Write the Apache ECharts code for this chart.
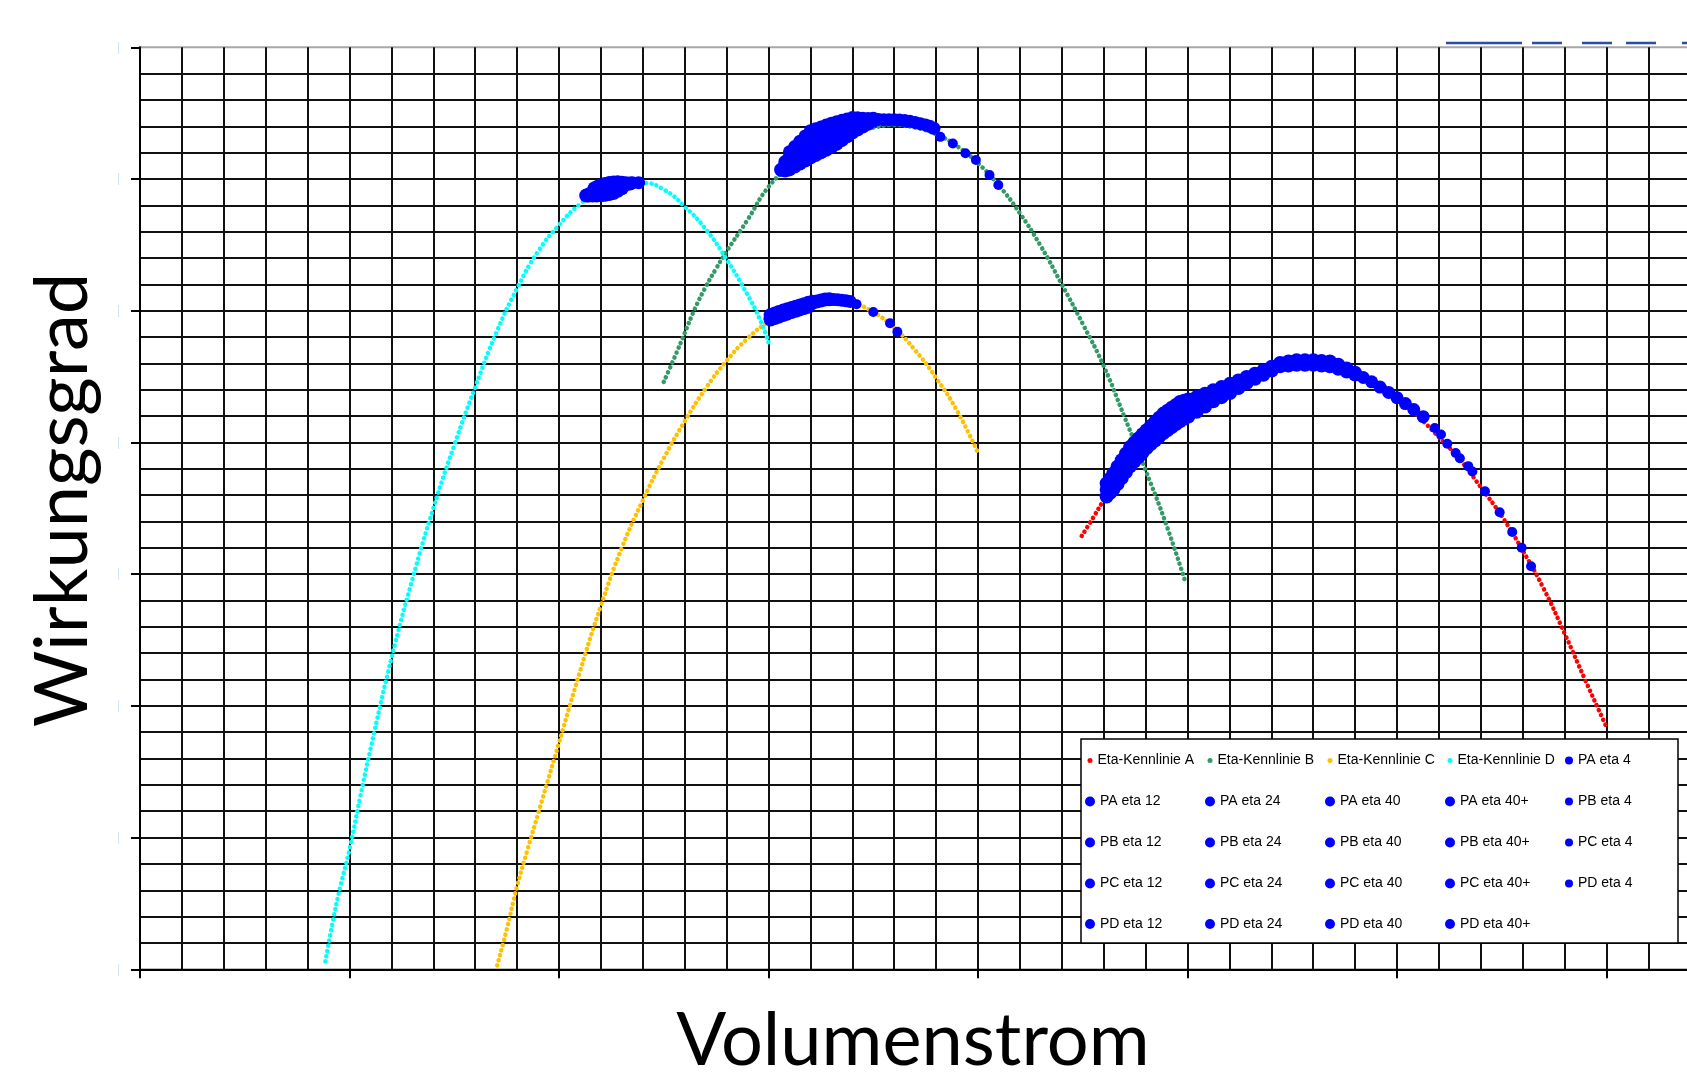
<!DOCTYPE html>
<html>
<head>
<meta charset="utf-8">
<script src="https://cdn.jsdelivr.net/npm/echarts@6/dist/echarts.min.js"></script>
<style>
html,body{margin:0;padding:0;background:#fff;}
#chart{width:1687px;height:1080px;}
</style>
</head>
<body>
<div id="chart"></div>
<script>
// ---------- texts ----------
const xTitle = 'Volumenstrom';
const yTitle = 'Wirkungsgrad';

// ---------- Kennlinien (x = Volumenstrom, y = Wirkungsgrad) ----------
const kennlinieNames = ['Eta-Kennlinie A', 'Eta-Kennlinie B', 'Eta-Kennlinie C', 'Eta-Kennlinie D'];
const kennlinieColors = ['#ff0000', '#339966', '#ffc000', '#00ffff'];

const curveA = [[44.95,32.9],[45.5,34.3],[46,35.6],[47,37.9],[48,39.9],[49,41.4],[50,42.6],[51,43.6],[52,44.5],[53,45.2],[54,45.8],[55,46.2],[56,46.3],[57,46.0],[58,45.4],[59,44.6],[60,43.5],[61,42.0],[62,40.4],[63,38.7],[64,36.6],[65,34.4],[66,31.8],[67,28.9],[68,25.5],[69,21.9],[70,18.4]];
const curveB = [[25.0,44.6],[25.5,46.4],[26,48.3],[26.5,50.2],[27,51.8],[27.5,53.2],[28,54.5],[29,56.9],[30,59.4],[31,60.9],[32,62.0],[33,62.9],[34,63.5],[35,63.9],[36,64.1],[37,63.9],[38,63.4],[39,62.5],[40,61.2],[41,59.5],[42,57.4],[43,54.9],[44,52.0],[45,49.0],[46,45.8],[47,41.9],[48,37.9],[49,33.7],[49.9,29.4]];
const curveC = [[17.05,0.3],[17.5,3.0],[18,6.3],[18.5,9.1],[19,11.8],[20,17.2],[21,22.6],[22,27.6],[23,32.0],[24,35.6],[25,38.8],[26,41.6],[27,44.1],[28,46.2],[29,47.9],[30,49.2],[31,50.2],[32,50.7],[33,50.9],[34,50.6],[35,49.9],[36,48.7],[37,47.0],[38,44.9],[39,42.4],[40,39.2]];
const curveD = [[8.85,0.6],[9.2,3.6],[9.55,6.2],[10,9.1],[10.5,13.0],[11,16.7],[12,23.6],[13,29.6],[14,35.0],[15,39.8],[16,44.2],[17,48.3],[18,51.7],[19,54.5],[20,56.5],[21,58.1],[22,59.2],[23,59.7],[24,59.7],[25,59.2],[26,57.9],[27,56.2],[28,53.9],[29,51.2],[29.6,49.3],[30,47.6]];

// ---------- Betriebspunkte (blue) ----------
const PA_eta4 = [[61.8,41.1],[62.1,40.6],[62.4,39.9],[62.8,39.2],[63.0,38.8],[63.4,38.2],[63.6,37.8],[64.2,36.3],[64.9,34.7],[65.5,33.2],[65.95,32.0],[66.4,30.6]];
const PA_eta12 = [[46.14,35.9],[46.3,36.15],[46.46,36.42],[46.66,36.85],[46.86,37.3],[47.06,37.75],[47.26,38.19],[47.46,38.55],[47.66,38.89],[47.86,39.25],[48.05,39.58],[48.25,39.87],[48.45,40.15],[48.65,40.45],[48.85,40.72],[49.05,40.95],[49.25,41.16],[49.45,41.4],[49.64,41.6],[49.84,41.8],[50.04,41.97],[50.44,42.33],[50.84,42.73],[51.23,43.13],[51.63,43.44],[52.03,43.75],[52.43,44.13],[52.82,44.51],[53.22,44.83],[53.62,45.14],[54.02,45.46],[54.42,45.78],[54.82,45.84],[55.21,45.9],[55.61,45.9],[56.01,45.9],[56.4,45.84],[56.8,45.78],[57.2,45.6],[57.6,45.39],[58.0,45.15]];
const PA_eta24 = [[46.14,36.4],[46.3,36.7],[46.46,37.03],[46.66,37.5],[46.86,37.98],[47.06,38.47],[47.26,38.93],[47.46,39.28],[47.66,39.6],[47.86,39.95],[48.05,40.26],[48.25,40.57],[48.45,40.86],[48.65,41.17],[48.85,41.46],[49.05,41.7],[49.25,41.9],[49.45,42.12],[49.64,42.33],[49.84,42.48],[50.04,42.61],[50.24,42.75],[50.44,42.89],[50.64,43.05],[50.84,43.22],[51.03,43.39],[51.23,43.55],[51.43,43.69],[51.63,43.83],[51.83,43.97],[52.03,44.1],[52.23,44.26],[52.43,44.42],[52.63,44.58],[52.82,44.74]];
const PA_eta40 = [[46.14,36.88],[46.3,37.25],[46.46,37.64],[46.66,38.15],[46.86,38.65],[47.06,39.15],[47.26,39.66],[47.46,39.98],[47.66,40.3],[47.86,40.62],[48.05,40.93],[48.25,41.25],[48.45,41.56],[48.65,41.88],[48.85,42.19],[49.05,42.41],[49.25,42.63],[49.45,42.85],[49.64,43.07],[49.84,43.17],[50.04,43.26],[50.44,43.45],[50.84,43.7],[51.23,43.96],[51.63,44.21],[52.03,44.46],[52.43,44.71],[52.82,44.97],[53.22,45.22],[53.62,45.47],[54.02,45.75],[54.42,46.04],[54.82,46.14],[55.21,46.24],[55.61,46.24],[56.01,46.24],[56.4,46.19],[56.8,46.14],[57.2,45.9],[57.6,45.61],[58.0,45.3]];
const PA_eta40p = [[58.39,44.93],[58.79,44.6],[59.19,44.2],[59.6,43.8],[60.0,43.4],[60.4,42.95],[60.8,42.5],[61.25,41.96]];

const PB_eta4 = [[38.2,63.2],[38.8,62.7],[39.4,61.96],[39.9,61.45],[40.55,60.3],[40.97,59.55]];
const PB_eta12 = [[30.8,60.65],[31.0,60.73],[31.25,60.95],[31.5,61.18],[31.75,61.4],[32.0,61.63],[32.25,61.82],[32.5,62.02],[32.75,62.22],[33.0,62.42],[33.25,62.68],[33.5,62.95],[33.75,63.24],[34.0,63.53],[34.25,63.75],[34.5,63.98],[34.75,64.2],[35.0,64.43]];
const PB_eta24 = [[30.6,60.7],[30.8,60.95],[31.0,61.18],[31.25,61.46],[31.5,61.74],[31.75,62.02],[32.0,62.31],[32.25,62.48],[32.5,62.66],[32.75,62.85],[33.0,63.03],[33.25,63.24],[33.5,63.45],[33.75,63.68],[34.0,63.91],[34.25,64.05],[34.5,64.19],[34.75,64.35]];
const PB_eta40 = [[30.8,61.3],[31.0,61.62],[31.25,61.96],[31.5,62.31],[31.75,62.65],[32.0,62.99],[32.25,63.15],[32.5,63.31],[32.75,63.47],[33.0,63.63],[33.25,63.8],[33.5,63.96],[33.75,64.13],[34.0,64.29],[34.25,64.35],[34.5,64.41],[34.75,64.5],[35.0,64.57]];
const PB_eta40p = [[31.0,62.07],[31.25,62.47],[31.5,62.87],[31.75,63.27],[32.0,63.67],[32.25,63.81],[32.5,63.95],[32.75,64.1],[33.0,64.24],[33.25,64.35],[33.5,64.46],[33.75,64.56],[34.0,64.67],[34.25,64.65],[34.5,64.62],[34.75,64.6],[35.25,64.52],[35.5,64.5],[35.75,64.5],[36.0,64.5],[36.25,64.48],[36.5,64.45],[36.75,64.38],[37.0,64.3],[37.25,64.2],[37.5,64.1],[37.7,64.0],[37.9,63.85]];

const PC_eta4 = [[34.2,50.5],[35.0,49.9],[35.8,49.05],[36.15,48.4]];
const PC_eta12 = [[30.1,49.33],[30.3,49.44],[30.5,49.55],[30.7,49.67],[30.9,49.78],[31.1,49.9],[31.3,50.0],[31.5,50.1],[31.7,50.2],[31.9,50.3]];
const PC_eta24 = [[30.1,49.45],[30.3,49.6],[30.5,49.72],[30.7,49.85],[30.9,49.96],[31.1,50.07],[31.3,50.17],[31.5,50.27],[31.7,50.38],[31.9,50.5],[32.1,50.6],[32.3,50.7],[32.5,50.77],[32.7,50.85],[32.9,50.87]];
const PC_eta40 = [[30.1,49.67],[30.3,49.79],[30.5,49.9],[30.7,50.01],[30.9,50.12],[31.1,50.21],[31.3,50.3],[31.5,50.4],[31.7,50.5],[31.9,50.6],[32.1,50.68]];
const PC_eta40p = [[33.1,50.85],[33.3,50.84],[33.5,50.8],[33.7,50.76],[33.9,50.7]];

const PD_eta4 = [[23.85,59.7]];
const PD_eta12 = [[21.4,58.75],[21.6,58.75],[21.8,58.75],[22.0,58.77],[22.2,58.8],[22.4,58.86],[22.6,58.93],[22.8,59.1],[23.0,59.3]];
const PD_eta24 = [[21.3,58.75],[21.45,58.85],[21.6,58.95],[21.8,59.05],[22.0,59.13],[22.2,59.22],[22.4,59.3],[22.6,59.38],[22.8,59.45],[23.0,59.52],[23.2,59.6],[23.4,59.65]];
const PD_eta40 = [[21.7,59.3],[21.85,59.42],[22.0,59.53],[22.2,59.62],[22.4,59.7],[22.6,59.73],[22.8,59.75],[23.0,59.72],[23.2,59.67]];
const PD_eta40p = [[23.5,59.72],[23.8,59.72]];

const pointNames = [
  'PA eta 4','PA eta 12','PA eta 24','PA eta 40','PA eta 40+',
  'PB eta 4','PB eta 12','PB eta 24','PB eta 40','PB eta 40+',
  'PC eta 4','PC eta 12','PC eta 24','PC eta 40','PC eta 40+',
  'PD eta 4','PD eta 12','PD eta 24','PD eta 40','PD eta 40+'
];
const pointData = [
  PA_eta4, PA_eta12, PA_eta24, PA_eta40, PA_eta40p,
  PB_eta4, PB_eta12, PB_eta24, PB_eta40, PB_eta40p,
  PC_eta4, PC_eta12, PC_eta24, PC_eta40, PC_eta40p,
  PD_eta4, PD_eta12, PD_eta24, PD_eta40, PD_eta40p
];
const pointColor = '#0000ff';

// legend arrangement (rows as in the picture)
const legendRows = [
  ['Eta-Kennlinie A','Eta-Kennlinie B','Eta-Kennlinie C','Eta-Kennlinie D','PA eta 4'],
  ['PA eta 12','PA eta 24','PA eta 40','PA eta 40+','PB eta 4'],
  ['PB eta 12','PB eta 24','PB eta 40','PB eta 40+','PC eta 4'],
  ['PC eta 12','PC eta 24','PC eta 40','PC eta 40+','PD eta 4'],
  ['PD eta 12','PD eta 24','PD eta 40','PD eta 40+']
];

// ---------- layout ----------
const GRID_LEFT = 140, GRID_TOP = 47.3, GRID_W = 1676, GRID_H = 922;
const LEG_COL_X = [1090, 1210, 1330, 1450, 1569];
const LEG_ROW_Y = [762.5, 803.5, 844.5, 885.5, 926];

const series = [];
kennlinieNames.forEach(function (name, i) {
  series.push({
    name: name,
    type: 'line',
    data: [curveA, curveB, curveC, curveD][i],
    smooth: 0.5,
    symbol: 'none',
    showSymbol: false,
    z: 2,
    itemStyle: { color: kennlinieColors[i] },
    lineStyle: { color: kennlinieColors[i], width: 4.5, type: [0.1, 5.2], cap: 'round' },
    emphasis: { disabled: true },
    silent: true
  });
});
pointNames.forEach(function (name, i) {
  let size = 14;
  if (/eta 4$/.test(name)) size = 10;
  else if (/40\+$/.test(name)) size = 13;
  series.push({
    name: name,
    type: 'scatter',
    data: pointData[i],
    symbol: 'circle',
    symbolSize: size,
    z: 3,
    itemStyle: { color: pointColor, opacity: 1 },
    emphasis: { disabled: true },
    silent: true
  });
});

const legends = [];
legendRows.forEach(function (row, r) {
  row.forEach(function (name, c) {
    let size = 10;
    if (/^Eta/.test(name)) size = 5;
    else if (/eta 4$/.test(name)) size = 8;
    legends.push({
      show: true,
      data: [{ name: name, icon: 'circle' }],
      left: LEG_COL_X[c] - size / 2,
      top: LEG_ROW_Y[r] - 9,
      itemWidth: size,
      itemHeight: 18,
      itemGap: 0,
      padding: 0,
      selectedMode: false,
      z: 5,
      textStyle: { fontSize: 14, color: '#000', fontFamily: 'Liberation Sans, Arial, sans-serif' }
    });
  });
});

const gridLine = { color: '#111', width: 2 };

const option = {
  animation: false,
  backgroundColor: '#fff',
  grid: { left: GRID_LEFT, top: GRID_TOP, width: GRID_W, height: GRID_H, outerBoundsMode: 'none', containLabel: false, show: true, borderColor: '#a8a8a8', borderWidth: 2, backgroundColor: 'transparent' },
  xAxis: {
    type: 'value', min: 0, max: 80, interval: 10,
    axisLine: { show: true, lineStyle: { color: '#000', width: 2 } },
    axisTick: { show: true, length: 9, lineStyle: { color: '#000', width: 2 } },
    axisLabel: { show: false },
    splitLine: { show: true, lineStyle: gridLine },
    minorTick: { show: false, splitNumber: 5 },
    minorSplitLine: { show: true, lineStyle: gridLine }
  },
  yAxis: {
    type: 'value', min: 0, max: 70, interval: 10,
    axisLine: { show: true, lineStyle: { color: '#000', width: 2 } },
    axisTick: { show: true, length: 9, lineStyle: { color: '#000', width: 2 } },
    axisLabel: { show: true, formatter: function () { return '|'; }, color: '#cfe3f3', fontSize: 12, margin: 20 },
    splitLine: { show: true, showMaxLine: false, lineStyle: gridLine },
    minorTick: { show: false, splitNumber: 5 },
    minorSplitLine: { show: true, lineStyle: gridLine }
  },
  legend: legends,
  graphic: [
    { type: 'rect', z: 4, shape: { x: 1081, y: 739, width: 597, height: 204 }, style: { fill: '#fff', stroke: '#000', lineWidth: 1.5 } },
    { type: 'line', z: 4, shape: { x1: 1446, y1: 43, x2: 1700, y2: 43 }, style: { stroke: '#2b4ea2', lineWidth: 2.5, lineDash: [76, 10, 30, 20, 30, 14, 30, 26, 30, 30] } },
    { type: 'text', z: 4, x: 913, y: 1041, style: { text: xTitle, fontSize: 74, fontFamily: 'Lato', fill: '#000', align: 'center', verticalAlign: 'middle' } },
    { type: 'text', z: 4, x: 63, y: 500, rotation: Math.PI / 2, style: { text: yTitle, fontSize: 74, fontFamily: 'Lato', fill: '#000', align: 'center', verticalAlign: 'middle' } }
  ],
  series: series
};

const chart = echarts.init(document.getElementById('chart'), null, { renderer: 'canvas' });
chart.setOption(option);
</script>
</body>
</html>
